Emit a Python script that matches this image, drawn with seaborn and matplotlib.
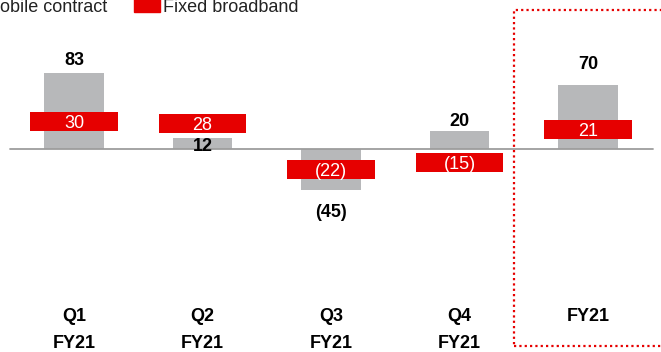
import numpy as np
import pandas as pd
import seaborn as sns
import matplotlib.pyplot as plt
from matplotlib.patches import Patch, Rectangle

# --- data ---
periods = ["Q1\nFY21", "Q2\nFY21", "Q3\nFY21", "Q4\nFY21", "FY21"]
mobile_contract = [83, 12, -45, 20, 70]
fixed_broadband = [30, 28, -22, -15, 21]
mobile_labels = ["83", "12", "(45)", "20", "70"]
fixed_labels = ["30", "28", "(22)", "(15)", "21"]

# label nudges in pixels (layout only)
mobile_label_dy = [8, -13, -27, 5, 16]

GREY = "#b7b8ba"
RED = "#e60000"
LINE_GREY = "#9d9d9d"

sns.set_style("white")
plt.rcParams["font.family"] = ["Liberation Sans", "DejaVu Sans"]

df = pd.DataFrame({"period": periods, "mobile": mobile_contract, "fixed": fixed_broadband})

W, H = 661, 352
fig = plt.figure(figsize=(W / 100, H / 100), dpi=100)
ax_bottom_px = 305
ax = fig.add_axes([0, (H - ax_bottom_px) / H, 1, ax_bottom_px / H])

sns.barplot(data=df, x="period", y="mobile", color=GREY, width=0.46,
            saturation=1, linewidth=0, ax=ax, zorder=2)

# fixed broadband drawn as a thin marker band centred on its value
band = 20.5
x = np.arange(len(periods))
fixed = np.array(fixed_broadband, dtype=float)
ax.bar(x, np.full_like(fixed, band), bottom=fixed - band / 2, width=0.68,
       color=RED, linewidth=0, zorder=3)

# scales chosen so that zero sits where the reference has it
px_per_unit = 0.915
zero_px = 149
ax.set_ylim(-(ax_bottom_px - zero_px) / px_per_unit, zero_px / px_per_unit)
ax.set_xlim(-74 / 128.5, (W - 74) / 128.5)

ax.axhline(0, xmin=9.5 / W, xmax=653 / W, color=LINE_GREY, lw=1.3, zorder=2.5)

for i, (v, lab, dy) in enumerate(zip(mobile_contract, mobile_labels, mobile_label_dy)):
    ax.annotate(lab, (i, v), xytext=(0, dy), textcoords="offset pixels",
                ha="center", va="baseline", fontsize=13, fontweight="bold",
                color="black", zorder=6)

for i, (v, lab) in enumerate(zip(fixed_broadband, fixed_labels)):
    ax.text(i, v, lab, ha="center", va="center_baseline", fontsize=13,
            color="white", zorder=6)

ax.set_xlabel("")
ax.set_ylabel("")
ax.set_yticks([])
ax.set_xticks(x)
ax.set_xticklabels(periods, fontsize=13, fontweight="bold", color="black",
                   linespacing=1.75)
ax.tick_params(axis="x", length=0, pad=2)
sns.despine(ax=ax, left=True, bottom=True)

# dotted highlight round the full-year column
fig.patches.append(Rectangle((514 / W, 1 - 345.5 / H), 0.5, (345.5 - 9.5) / H,
                             transform=fig.transFigure, fill=False,
                             edgecolor=RED, lw=1.6, linestyle=(0, (1, 1.4)),
                             clip_on=False))

handles = [Patch(color=GREY), Patch(color=RED)]
fig.legend(handles, ["Mobile contract", "Fixed broadband"], ncol=2,
           loc="lower left", bbox_to_anchor=(-44 / W, 1 - 16 / H),
           frameon=False, fontsize=13, borderpad=0, borderaxespad=0,
           handlelength=1.39, handletextpad=0.22, columnspacing=1.5,
           labelcolor="#222222")

fig.savefig("out.png", dpi=100)
